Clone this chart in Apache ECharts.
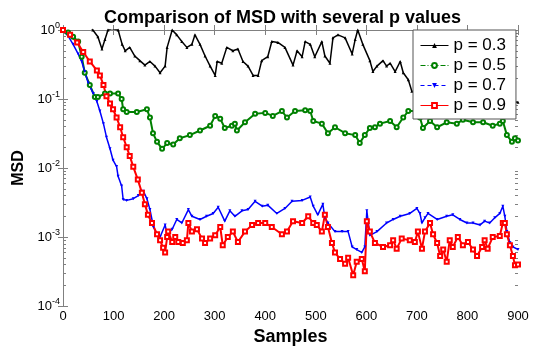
<!DOCTYPE html>
<html>
<head>
<meta charset="utf-8">
<script src="https://cdn.jsdelivr.net/npm/echarts@6/dist/echarts.min.js"></script>
<style>
  html, body { margin: 0; background: #fff; }
  #chart { width: 535px; height: 351px; }
</style>
</head>
<body>
<div id="chart"></div>
<script>
// [sample, MSD]
const msdP03 = [
  [0, 1.0], [20, 1.5], [40, 1.7], [55, 1.1], [59, 1.0], [69, 0.8], [77, 0.53], [83, 0.73], [89, 1.0],
  [97, 1.05], [109, 1.0], [117, 0.62], [123, 0.5], [132, 0.56], [142, 0.42], [152, 0.36], [162, 0.31],
  [172, 0.35], [182, 0.30], [192, 0.24], [202, 0.30], [206, 0.56], [216, 1.0], [225, 0.85], [235, 0.68],
  [245, 0.56], [255, 0.62], [261, 0.85], [271, 0.62], [281, 0.42], [291, 0.30], [301, 0.22], [305, 0.35],
  [314, 0.33], [324, 0.56], [336, 0.50], [346, 0.53], [356, 0.35], [366, 0.30], [376, 0.22], [386, 0.22],
  [393, 0.36], [405, 0.41], [413, 0.68], [425, 0.66], [439, 0.56], [455, 0.31], [463, 0.50], [473, 0.41],
  [479, 0.68], [489, 0.62], [498, 0.41], [512, 0.68], [518, 0.42], [528, 0.33], [534, 0.77], [544, 0.85],
  [558, 0.77], [572, 0.45], [578, 0.73], [583, 1.0], [593, 0.62], [607, 0.36], [613, 0.25], [621, 0.30],
  [633, 0.36], [640, 0.30], [647, 0.33], [657, 0.25], [667, 0.35], [673, 0.24], [683, 0.19], [690, 0.13],
  [700, 0.12], [730, 0.13], [770, 0.11], [810, 0.12], [850, 0.10], [900, 0.09]
];
const msdP05 = [
  [0, 1.0], [10, 0.92], [20, 0.80], [30, 0.68], [37, 0.41], [43, 0.24], [53, 0.16], [63, 0.107], [69, 0.107],
  [83, 0.12], [93, 0.12], [109, 0.12], [116, 0.10], [119, 0.071], [126, 0.065], [146, 0.065], [166, 0.071],
  [172, 0.054], [178, 0.032], [186, 0.024], [196, 0.019], [206, 0.023], [218, 0.022], [231, 0.027],
  [251, 0.030], [271, 0.035], [291, 0.041], [301, 0.057], [311, 0.052], [320, 0.038], [334, 0.041],
  [340, 0.044], [344, 0.035], [360, 0.046], [380, 0.061], [400, 0.063], [415, 0.057], [433, 0.067],
  [443, 0.054], [459, 0.067], [479, 0.069], [489, 0.067], [495, 0.048], [512, 0.044], [524, 0.032],
  [538, 0.039], [558, 0.032], [578, 0.030], [587, 0.023], [597, 0.030], [607, 0.038], [617, 0.039],
  [627, 0.044], [647, 0.048], [660, 0.039], [673, 0.054], [683, 0.067], [700, 0.067], [706, 0.054],
  [712, 0.038], [726, 0.048], [740, 0.039], [759, 0.046], [779, 0.044], [791, 0.050], [811, 0.046],
  [831, 0.046], [850, 0.041], [864, 0.044], [870, 0.048], [878, 0.030], [888, 0.024], [894, 0.027], [900, 0.025]
];
const msdP07 = [
  [0, 1.0], [10, 0.82], [20, 0.62], [30, 0.45], [37, 0.35], [43, 0.25], [50, 0.17], [60, 0.12], [67, 0.092],
  [73, 0.067], [80, 0.044], [86, 0.028], [93, 0.019], [99, 0.013], [106, 0.0105], [109, 0.0076], [116, 0.0055],
  [119, 0.0035], [126, 0.0034], [139, 0.0036], [149, 0.0040], [159, 0.0046], [166, 0.0036], [172, 0.0025],
  [179, 0.0014], [186, 0.0011], [192, 0.0010], [202, 0.0015], [206, 0.0011], [216, 0.0013], [225, 0.0018],
  [235, 0.0016], [248, 0.0025], [255, 0.0020], [271, 0.0018], [284, 0.0020], [297, 0.0022], [307, 0.0027],
  [320, 0.0017], [330, 0.0024], [340, 0.0020], [354, 0.0024], [366, 0.0025], [380, 0.0033], [394, 0.0028],
  [405, 0.0029], [423, 0.0022], [439, 0.0026], [453, 0.0033], [473, 0.0034], [489, 0.0038], [495, 0.0028],
  [504, 0.0021], [514, 0.0030], [518, 0.0019], [524, 0.0016], [538, 0.0012], [552, 0.0012], [564, 0.0012],
  [572, 0.00072], [581, 0.00066], [591, 0.00060], [597, 0.00072], [601, 0.0024], [607, 0.00106], [621, 0.0012],
  [640, 0.0016], [653, 0.0018], [667, 0.0020], [686, 0.0022], [700, 0.0026], [706, 0.0022], [710, 0.0016],
  [716, 0.0019], [722, 0.0022], [740, 0.0018], [759, 0.0020], [771, 0.0021], [785, 0.0018], [799, 0.0016],
  [811, 0.0016], [825, 0.0015], [834, 0.0017], [844, 0.0016], [854, 0.0019], [864, 0.0022], [870, 0.0028],
  [874, 0.0020], [878, 0.0012], [884, 0.00083], [890, 0.00072], [900, 0.00066]
];
const msdP09 = [
  [0, 1.0], [14, 0.85], [28, 0.66], [40, 0.48], [53, 0.35], [67, 0.26], [73, 0.22], [80, 0.16], [86, 0.11],
  [93, 0.086], [99, 0.071], [106, 0.054], [113, 0.039], [119, 0.028], [126, 0.020], [132, 0.015], [139, 0.0104],
  [148, 0.0068], [156, 0.0044], [162, 0.0030], [168, 0.0021], [176, 0.0016], [186, 0.0011], [192, 0.0009],
  [198, 0.0007], [202, 0.0006], [206, 0.0010], [208, 0.0012], [216, 0.00085], [222, 0.0010], [228, 0.00085],
  [237, 0.00082], [245, 0.0009], [248, 0.0016], [255, 0.0012], [265, 0.0013], [275, 0.00095], [281, 0.00082],
  [291, 0.00095], [301, 0.00106], [311, 0.0014], [316, 0.00076], [326, 0.0010], [336, 0.0012], [346, 0.00085],
  [360, 0.0012], [374, 0.0015], [386, 0.0016], [400, 0.0016], [413, 0.0014], [433, 0.0011], [443, 0.0012],
  [455, 0.0017], [473, 0.0016], [485, 0.0020], [495, 0.0016], [502, 0.0015], [512, 0.0012], [518, 0.0021],
  [524, 0.0014], [532, 0.00082], [538, 0.00060], [548, 0.00048], [558, 0.00041], [564, 0.00050], [574, 0.00028],
  [581, 0.00044], [591, 0.00048], [597, 0.00032], [601, 0.0017], [607, 0.0012], [617, 0.00082], [633, 0.00072],
  [647, 0.00076], [653, 0.0009], [660, 0.00068], [670, 0.00095], [686, 0.0009], [696, 0.00085], [702, 0.0012],
  [710, 0.00068], [716, 0.0012], [726, 0.0016], [732, 0.0011], [740, 0.00082], [746, 0.00053], [752, 0.00066],
  [759, 0.00044], [765, 0.0009], [771, 0.00072], [781, 0.0010], [791, 0.00076], [801, 0.00085], [811, 0.00066],
  [819, 0.00053], [829, 0.00072], [834, 0.0009], [840, 0.00068], [850, 0.0010], [864, 0.00104], [870, 0.0016],
  [874, 0.0016], [878, 0.0011], [884, 0.00076], [890, 0.00053], [894, 0.00039], [900, 0.00040]
];

// minor ticks 2..9 of every decade, as exponents (drawn on a hidden linear exponent axis)
const minorTickExp = [];
[-4, -3, -2, -1].forEach(e => {
  for (let k = 2; k <= 9; k++) minorTickExp.push(e + Math.log10(k));
});

const font = 'Liberation Sans, Arial, sans-serif';
const grey = '#808080';
const frame = { lineStyle: { color: grey, width: 1 } };

const chart = echarts.init(document.getElementById('chart'));

const logAxis = (extra) => Object.assign({
  type: 'log', logBase: 10, min: 0.0001, max: 1,
  axisLine: frame, splitLine: { show: false },
  axisTick: { inside: true, length: 5, lineStyle: { color: grey } },
  axisLabel: { show: false }
}, extra);

const minorAxis = (pos) => ({
  type: 'value', min: -4, max: 0, position: pos,
  axisLine: { show: false }, splitLine: { show: false }, axisLabel: { show: false },
  axisTick: { inside: true, length: 3, customValues: minorTickExp, lineStyle: { color: grey } }
});

const xAxisBase = (extra) => Object.assign({
  type: 'value', min: 0, max: 900, interval: 100,
  axisLine: frame, splitLine: { show: false },
  axisTick: { inside: true, length: 5, lineStyle: { color: grey } },
  axisLabel: { show: false }
}, extra);

chart.setOption({
  animation: false,
  backgroundColor: '#fff',
  title: {
    text: 'Comparison of MSD with several p values',
    left: 99, top: 4,
    textStyle: { fontFamily: font, fontSize: 18, fontWeight: 'bold', color: '#000' }
  },
  grid: { left: 63, right: 17, top: 30, bottom: 32 },
  legend: {
    orient: 'vertical', left: 413, top: 30,
    padding: [7, 10, 5, 7], itemGap: 3, itemWidth: 28, itemHeight: 6,
    backgroundColor: '#fff', borderColor: '#555', borderWidth: 1,
    textStyle: { fontFamily: font, fontSize: 17, color: '#000' },
    data: [
      { name: 'p = 0.3', lineStyle: { width: 1 } },
      { name: 'p = 0.5', lineStyle: { width: 1, type: [5, 2, 1, 2] } },
      { name: 'p = 0.7', lineStyle: { width: 1, type: [4, 3] } },
      { name: 'p = 0.9', lineStyle: { width: 1 } }
    ]
  },
  xAxis: [
    xAxisBase({
      position: 'bottom',
      name: 'Samples', nameLocation: 'middle', nameGap: 19,
      nameTextStyle: { fontFamily: font, fontSize: 18, fontWeight: 'bold', color: '#000' },
      axisLabel: { show: true, margin: 4, fontFamily: font, fontSize: 13, color: '#000' }
    }),
    xAxisBase({ position: 'top' })
  ],
  yAxis: [
    logAxis({
      position: 'left',
      name: 'MSD', nameLocation: 'middle', nameGap: 34,
      nameTextStyle: { fontFamily: font, fontSize: 16, fontWeight: 'bold', color: '#000' },
      axisLabel: {
        show: true, margin: 3, fontFamily: font, fontSize: 13, color: '#000',
        formatter: v => '10{sup|' + Math.round(Math.log10(v)) + '}',
        rich: { sup: { fontFamily: font, fontSize: 9, color: '#000', padding: [0, 0, 9, 0] } }
      }
    }),
    logAxis({ position: 'right' }),
    minorAxis('left'),
    minorAxis('right')
  ],
  series: [
    {
      name: 'p = 0.3', type: 'line', data: msdP03,
      symbol: 'triangle', symbolSize: 3,
      lineStyle: { color: '#000', width: 1.5 }, itemStyle: { color: '#000' }
    },
    {
      name: 'p = 0.5', type: 'line', data: msdP05,
      symbol: 'emptyCircle', symbolSize: 4,
      lineStyle: { color: '#008000', width: 2 }, itemStyle: { color: '#008000' }
    },
    {
      name: 'p = 0.7', type: 'line', data: msdP07,
      symbol: 'triangle', symbolRotate: 180, symbolSize: 3,
      lineStyle: { color: '#0000ff', width: 1.5 }, itemStyle: { color: '#0000ff' }
    },
    {
      name: 'p = 0.9', type: 'line', data: msdP09,
      symbol: 'emptyRect', symbolSize: 4,
      lineStyle: { color: '#ff0000', width: 2 }, itemStyle: { color: '#ff0000' }
    }
  ]
});
</script>
</body>
</html>
